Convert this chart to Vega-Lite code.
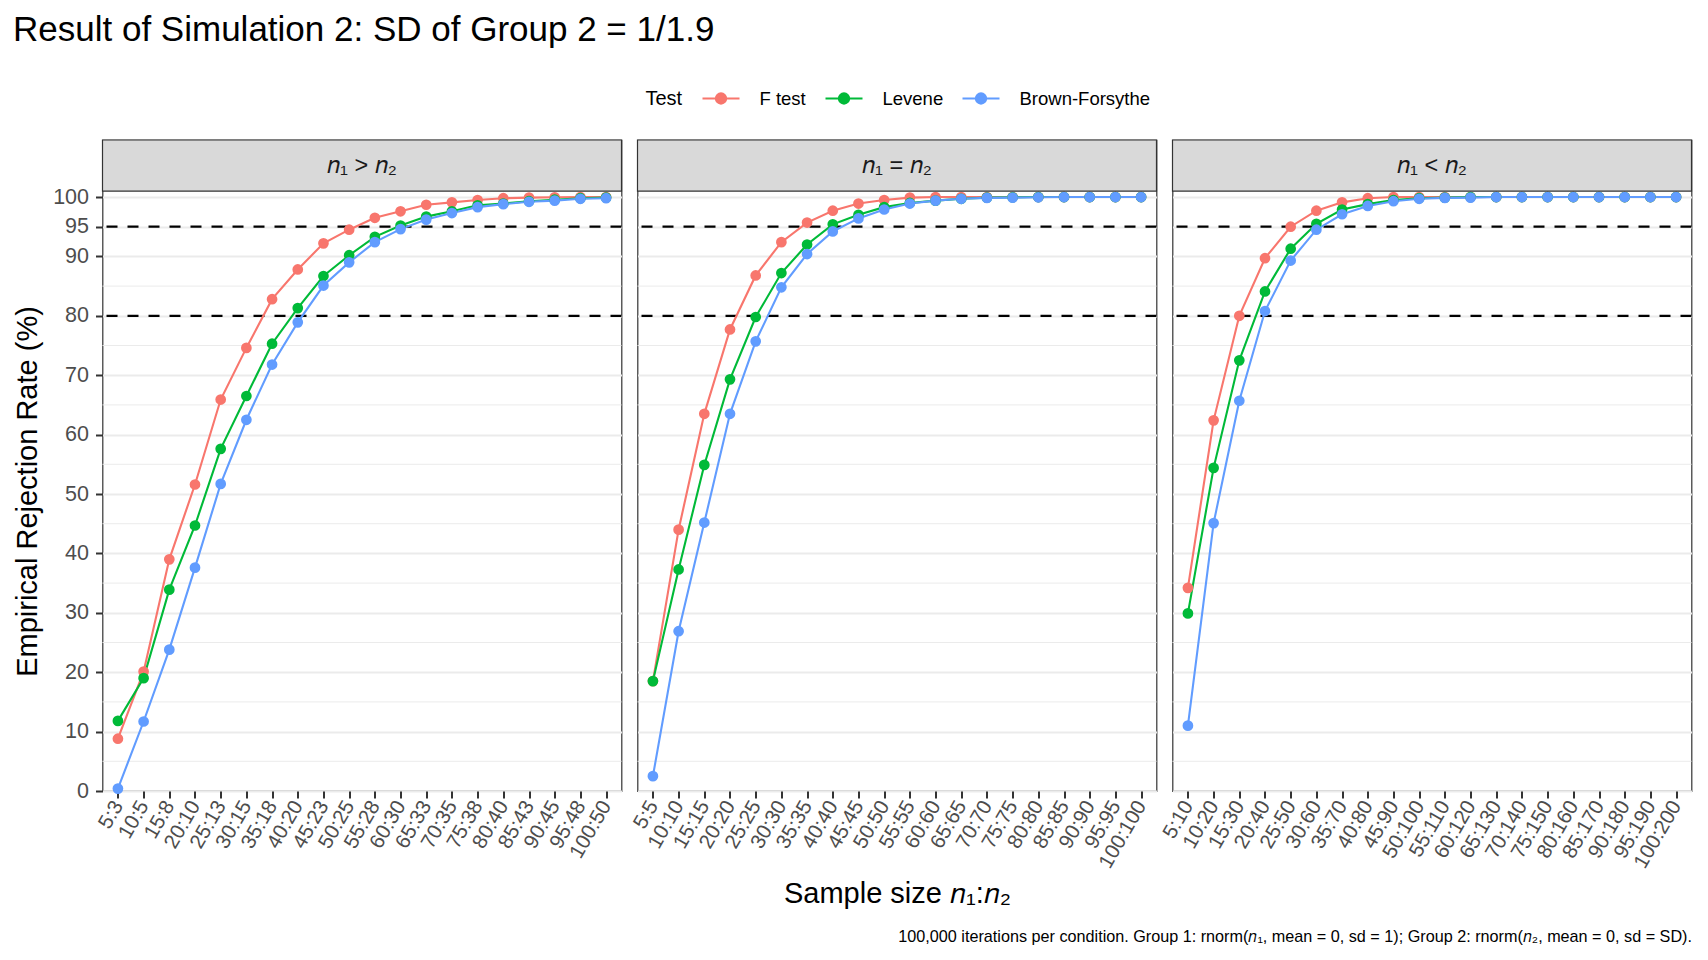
{
  "$schema": "https://vega.github.io/schema/vega-lite/v6.json",
  "background": "white",
  "padding": {"left": 12.5, "top": 13, "right": 14, "bottom": 10},
  "title": {
    "text": "Result of Simulation 2: SD of Group 2 = 1/1.9",
    "anchor": "start",
    "fontSize": 35,
    "fontWeight": "normal",
    "font": "Liberation Sans",
    "color": "black",
    "offset": 31
  },
  "datasets": {
    "rates": [
      {"panel": "gt", "size": "5:3", "test": "F test", "rate": 8.8},
      {"panel": "gt", "size": "10:5", "test": "F test", "rate": 20.1},
      {"panel": "gt", "size": "15:8", "test": "F test", "rate": 39.0},
      {"panel": "gt", "size": "20:10", "test": "F test", "rate": 51.6},
      {"panel": "gt", "size": "25:13", "test": "F test", "rate": 65.9},
      {"panel": "gt", "size": "30:15", "test": "F test", "rate": 74.6},
      {"panel": "gt", "size": "35:18", "test": "F test", "rate": 82.8},
      {"panel": "gt", "size": "40:20", "test": "F test", "rate": 87.8},
      {"panel": "gt", "size": "45:23", "test": "F test", "rate": 92.2},
      {"panel": "gt", "size": "50:25", "test": "F test", "rate": 94.5},
      {"panel": "gt", "size": "55:28", "test": "F test", "rate": 96.5},
      {"panel": "gt", "size": "60:30", "test": "F test", "rate": 97.6},
      {"panel": "gt", "size": "65:33", "test": "F test", "rate": 98.7},
      {"panel": "gt", "size": "70:35", "test": "F test", "rate": 99.1},
      {"panel": "gt", "size": "75:38", "test": "F test", "rate": 99.5},
      {"panel": "gt", "size": "80:40", "test": "F test", "rate": 99.8},
      {"panel": "gt", "size": "85:43", "test": "F test", "rate": 99.9},
      {"panel": "gt", "size": "90:45", "test": "F test", "rate": 99.95},
      {"panel": "gt", "size": "95:48", "test": "F test", "rate": 100},
      {"panel": "gt", "size": "100:50", "test": "F test", "rate": 100},
      {"panel": "gt", "size": "5:3", "test": "Levene", "rate": 11.8},
      {"panel": "gt", "size": "10:5", "test": "Levene", "rate": 19.0},
      {"panel": "gt", "size": "15:8", "test": "Levene", "rate": 33.9},
      {"panel": "gt", "size": "20:10", "test": "Levene", "rate": 44.7},
      {"panel": "gt", "size": "25:13", "test": "Levene", "rate": 57.6},
      {"panel": "gt", "size": "30:15", "test": "Levene", "rate": 66.5},
      {"panel": "gt", "size": "35:18", "test": "Levene", "rate": 75.3},
      {"panel": "gt", "size": "40:20", "test": "Levene", "rate": 81.3},
      {"panel": "gt", "size": "45:23", "test": "Levene", "rate": 86.7},
      {"panel": "gt", "size": "50:25", "test": "Levene", "rate": 90.2},
      {"panel": "gt", "size": "55:28", "test": "Levene", "rate": 93.3},
      {"panel": "gt", "size": "60:30", "test": "Levene", "rate": 95.2},
      {"panel": "gt", "size": "65:33", "test": "Levene", "rate": 96.7},
      {"panel": "gt", "size": "70:35", "test": "Levene", "rate": 97.6},
      {"panel": "gt", "size": "75:38", "test": "Levene", "rate": 98.6},
      {"panel": "gt", "size": "80:40", "test": "Levene", "rate": 98.9},
      {"panel": "gt", "size": "85:43", "test": "Levene", "rate": 99.3},
      {"panel": "gt", "size": "90:45", "test": "Levene", "rate": 99.55},
      {"panel": "gt", "size": "95:48", "test": "Levene", "rate": 99.8},
      {"panel": "gt", "size": "100:50", "test": "Levene", "rate": 99.9},
      {"panel": "gt", "size": "5:3", "test": "Brown-Forsythe", "rate": 0.4},
      {"panel": "gt", "size": "10:5", "test": "Brown-Forsythe", "rate": 11.7},
      {"panel": "gt", "size": "15:8", "test": "Brown-Forsythe", "rate": 23.8},
      {"panel": "gt", "size": "20:10", "test": "Brown-Forsythe", "rate": 37.6},
      {"panel": "gt", "size": "25:13", "test": "Brown-Forsythe", "rate": 51.7},
      {"panel": "gt", "size": "30:15", "test": "Brown-Forsythe", "rate": 62.5},
      {"panel": "gt", "size": "35:18", "test": "Brown-Forsythe", "rate": 71.8},
      {"panel": "gt", "size": "40:20", "test": "Brown-Forsythe", "rate": 78.9},
      {"panel": "gt", "size": "45:23", "test": "Brown-Forsythe", "rate": 85.1},
      {"panel": "gt", "size": "50:25", "test": "Brown-Forsythe", "rate": 89.0},
      {"panel": "gt", "size": "55:28", "test": "Brown-Forsythe", "rate": 92.4},
      {"panel": "gt", "size": "60:30", "test": "Brown-Forsythe", "rate": 94.6},
      {"panel": "gt", "size": "65:33", "test": "Brown-Forsythe", "rate": 96.2},
      {"panel": "gt", "size": "70:35", "test": "Brown-Forsythe", "rate": 97.3},
      {"panel": "gt", "size": "75:38", "test": "Brown-Forsythe", "rate": 98.3},
      {"panel": "gt", "size": "80:40", "test": "Brown-Forsythe", "rate": 98.8},
      {"panel": "gt", "size": "85:43", "test": "Brown-Forsythe", "rate": 99.2},
      {"panel": "gt", "size": "90:45", "test": "Brown-Forsythe", "rate": 99.4},
      {"panel": "gt", "size": "95:48", "test": "Brown-Forsythe", "rate": 99.7},
      {"panel": "gt", "size": "100:50", "test": "Brown-Forsythe", "rate": 99.8},

      {"panel": "eq", "size": "5:5", "test": "F test", "rate": 18.5},
      {"panel": "eq", "size": "10:10", "test": "F test", "rate": 44.0},
      {"panel": "eq", "size": "15:15", "test": "F test", "rate": 63.5},
      {"panel": "eq", "size": "20:20", "test": "F test", "rate": 77.7},
      {"panel": "eq", "size": "25:25", "test": "F test", "rate": 86.8},
      {"panel": "eq", "size": "30:30", "test": "F test", "rate": 92.4},
      {"panel": "eq", "size": "35:35", "test": "F test", "rate": 95.7},
      {"panel": "eq", "size": "40:40", "test": "F test", "rate": 97.7},
      {"panel": "eq", "size": "45:45", "test": "F test", "rate": 98.9},
      {"panel": "eq", "size": "50:50", "test": "F test", "rate": 99.5},
      {"panel": "eq", "size": "55:55", "test": "F test", "rate": 99.9},
      {"panel": "eq", "size": "60:60", "test": "F test", "rate": 100},
      {"panel": "eq", "size": "65:65", "test": "F test", "rate": 100},
      {"panel": "eq", "size": "70:70", "test": "F test", "rate": 100},
      {"panel": "eq", "size": "75:75", "test": "F test", "rate": 100},
      {"panel": "eq", "size": "80:80", "test": "F test", "rate": 100},
      {"panel": "eq", "size": "85:85", "test": "F test", "rate": 100},
      {"panel": "eq", "size": "90:90", "test": "F test", "rate": 100},
      {"panel": "eq", "size": "95:95", "test": "F test", "rate": 100},
      {"panel": "eq", "size": "100:100", "test": "F test", "rate": 100},
      {"panel": "eq", "size": "5:5", "test": "Levene", "rate": 18.5},
      {"panel": "eq", "size": "10:10", "test": "Levene", "rate": 37.3},
      {"panel": "eq", "size": "15:15", "test": "Levene", "rate": 54.9},
      {"panel": "eq", "size": "20:20", "test": "Levene", "rate": 69.3},
      {"panel": "eq", "size": "25:25", "test": "Levene", "rate": 79.8},
      {"panel": "eq", "size": "30:30", "test": "Levene", "rate": 87.2},
      {"panel": "eq", "size": "35:35", "test": "Levene", "rate": 92.0},
      {"panel": "eq", "size": "40:40", "test": "Levene", "rate": 95.4},
      {"panel": "eq", "size": "45:45", "test": "Levene", "rate": 97.0},
      {"panel": "eq", "size": "50:50", "test": "Levene", "rate": 98.3},
      {"panel": "eq", "size": "55:55", "test": "Levene", "rate": 99.0},
      {"panel": "eq", "size": "60:60", "test": "Levene", "rate": 99.4},
      {"panel": "eq", "size": "65:65", "test": "Levene", "rate": 99.7},
      {"panel": "eq", "size": "70:70", "test": "Levene", "rate": 99.9},
      {"panel": "eq", "size": "75:75", "test": "Levene", "rate": 99.95},
      {"panel": "eq", "size": "80:80", "test": "Levene", "rate": 100},
      {"panel": "eq", "size": "85:85", "test": "Levene", "rate": 100},
      {"panel": "eq", "size": "90:90", "test": "Levene", "rate": 100},
      {"panel": "eq", "size": "95:95", "test": "Levene", "rate": 100},
      {"panel": "eq", "size": "100:100", "test": "Levene", "rate": 100},
      {"panel": "eq", "size": "5:5", "test": "Brown-Forsythe", "rate": 2.5},
      {"panel": "eq", "size": "10:10", "test": "Brown-Forsythe", "rate": 26.9},
      {"panel": "eq", "size": "15:15", "test": "Brown-Forsythe", "rate": 45.2},
      {"panel": "eq", "size": "20:20", "test": "Brown-Forsythe", "rate": 63.5},
      {"panel": "eq", "size": "25:25", "test": "Brown-Forsythe", "rate": 75.7},
      {"panel": "eq", "size": "30:30", "test": "Brown-Forsythe", "rate": 84.8},
      {"panel": "eq", "size": "35:35", "test": "Brown-Forsythe", "rate": 90.4},
      {"panel": "eq", "size": "40:40", "test": "Brown-Forsythe", "rate": 94.2},
      {"panel": "eq", "size": "45:45", "test": "Brown-Forsythe", "rate": 96.4},
      {"panel": "eq", "size": "50:50", "test": "Brown-Forsythe", "rate": 97.9},
      {"panel": "eq", "size": "55:55", "test": "Brown-Forsythe", "rate": 98.9},
      {"panel": "eq", "size": "60:60", "test": "Brown-Forsythe", "rate": 99.4},
      {"panel": "eq", "size": "65:65", "test": "Brown-Forsythe", "rate": 99.7},
      {"panel": "eq", "size": "70:70", "test": "Brown-Forsythe", "rate": 99.85},
      {"panel": "eq", "size": "75:75", "test": "Brown-Forsythe", "rate": 99.9},
      {"panel": "eq", "size": "80:80", "test": "Brown-Forsythe", "rate": 99.95},
      {"panel": "eq", "size": "85:85", "test": "Brown-Forsythe", "rate": 100},
      {"panel": "eq", "size": "90:90", "test": "Brown-Forsythe", "rate": 100},
      {"panel": "eq", "size": "95:95", "test": "Brown-Forsythe", "rate": 100},
      {"panel": "eq", "size": "100:100", "test": "Brown-Forsythe", "rate": 100},

      {"panel": "lt", "size": "5:10", "test": "F test", "rate": 34.2},
      {"panel": "lt", "size": "10:20", "test": "F test", "rate": 62.4},
      {"panel": "lt", "size": "15:30", "test": "F test", "rate": 80.0},
      {"panel": "lt", "size": "20:40", "test": "F test", "rate": 89.7},
      {"panel": "lt", "size": "25:50", "test": "F test", "rate": 95.0},
      {"panel": "lt", "size": "30:60", "test": "F test", "rate": 97.7},
      {"panel": "lt", "size": "35:70", "test": "F test", "rate": 99.1},
      {"panel": "lt", "size": "40:80", "test": "F test", "rate": 99.8},
      {"panel": "lt", "size": "45:90", "test": "F test", "rate": 100},
      {"panel": "lt", "size": "50:100", "test": "F test", "rate": 100},
      {"panel": "lt", "size": "55:110", "test": "F test", "rate": 100},
      {"panel": "lt", "size": "60:120", "test": "F test", "rate": 100},
      {"panel": "lt", "size": "65:130", "test": "F test", "rate": 100},
      {"panel": "lt", "size": "70:140", "test": "F test", "rate": 100},
      {"panel": "lt", "size": "75:150", "test": "F test", "rate": 100},
      {"panel": "lt", "size": "80:160", "test": "F test", "rate": 100},
      {"panel": "lt", "size": "85:170", "test": "F test", "rate": 100},
      {"panel": "lt", "size": "90:180", "test": "F test", "rate": 100},
      {"panel": "lt", "size": "95:190", "test": "F test", "rate": 100},
      {"panel": "lt", "size": "100:200", "test": "F test", "rate": 100},
      {"panel": "lt", "size": "5:10", "test": "Levene", "rate": 29.9},
      {"panel": "lt", "size": "10:20", "test": "Levene", "rate": 54.4},
      {"panel": "lt", "size": "15:30", "test": "Levene", "rate": 72.5},
      {"panel": "lt", "size": "20:40", "test": "Levene", "rate": 84.1},
      {"panel": "lt", "size": "25:50", "test": "Levene", "rate": 91.3},
      {"panel": "lt", "size": "30:60", "test": "Levene", "rate": 95.5},
      {"panel": "lt", "size": "35:70", "test": "Levene", "rate": 97.9},
      {"panel": "lt", "size": "40:80", "test": "Levene", "rate": 98.8},
      {"panel": "lt", "size": "45:90", "test": "Levene", "rate": 99.5},
      {"panel": "lt", "size": "50:100", "test": "Levene", "rate": 99.8},
      {"panel": "lt", "size": "55:110", "test": "Levene", "rate": 99.9},
      {"panel": "lt", "size": "60:120", "test": "Levene", "rate": 100},
      {"panel": "lt", "size": "65:130", "test": "Levene", "rate": 100},
      {"panel": "lt", "size": "70:140", "test": "Levene", "rate": 100},
      {"panel": "lt", "size": "75:150", "test": "Levene", "rate": 100},
      {"panel": "lt", "size": "80:160", "test": "Levene", "rate": 100},
      {"panel": "lt", "size": "85:170", "test": "Levene", "rate": 100},
      {"panel": "lt", "size": "90:180", "test": "Levene", "rate": 100},
      {"panel": "lt", "size": "95:190", "test": "Levene", "rate": 100},
      {"panel": "lt", "size": "100:200", "test": "Levene", "rate": 100},
      {"panel": "lt", "size": "5:10", "test": "Brown-Forsythe", "rate": 11.0},
      {"panel": "lt", "size": "10:20", "test": "Brown-Forsythe", "rate": 45.1},
      {"panel": "lt", "size": "15:30", "test": "Brown-Forsythe", "rate": 65.7},
      {"panel": "lt", "size": "20:40", "test": "Brown-Forsythe", "rate": 80.8},
      {"panel": "lt", "size": "25:50", "test": "Brown-Forsythe", "rate": 89.3},
      {"panel": "lt", "size": "30:60", "test": "Brown-Forsythe", "rate": 94.5},
      {"panel": "lt", "size": "35:70", "test": "Brown-Forsythe", "rate": 97.1},
      {"panel": "lt", "size": "40:80", "test": "Brown-Forsythe", "rate": 98.5},
      {"panel": "lt", "size": "45:90", "test": "Brown-Forsythe", "rate": 99.3},
      {"panel": "lt", "size": "50:100", "test": "Brown-Forsythe", "rate": 99.7},
      {"panel": "lt", "size": "55:110", "test": "Brown-Forsythe", "rate": 99.85},
      {"panel": "lt", "size": "60:120", "test": "Brown-Forsythe", "rate": 99.9},
      {"panel": "lt", "size": "65:130", "test": "Brown-Forsythe", "rate": 100},
      {"panel": "lt", "size": "70:140", "test": "Brown-Forsythe", "rate": 100},
      {"panel": "lt", "size": "75:150", "test": "Brown-Forsythe", "rate": 100},
      {"panel": "lt", "size": "80:160", "test": "Brown-Forsythe", "rate": 100},
      {"panel": "lt", "size": "85:170", "test": "Brown-Forsythe", "rate": 100},
      {"panel": "lt", "size": "90:180", "test": "Brown-Forsythe", "rate": 100},
      {"panel": "lt", "size": "95:190", "test": "Brown-Forsythe", "rate": 100},
      {"panel": "lt", "size": "100:200", "test": "Brown-Forsythe", "rate": 100}
    ],
    "minor": [
      {"level": 5}, {"level": 15}, {"level": 25}, {"level": 35}, {"level": 45},
      {"level": 55}, {"level": 65}, {"level": 75}, {"level": 85}
    ],
    "refs": [{"level": 80}, {"level": 95}],
    "strips": [
      {"panel": "gt", "label": "𝑛₁ > 𝑛₂"},
      {"panel": "eq", "label": "𝑛₁ = 𝑛₂"},
      {"panel": "lt", "label": "𝑛₁ < 𝑛₂"}
    ]
  },
  "spacing": 16,
  "bounds": "flush",
  "hconcat": [
    {
      "width": 519,
      "height": 651,
      "layer": [
        {
          "data": {"name": "minor"},
          "mark": {"type": "rule", "color": "#EBEBEB", "strokeWidth": 1},
          "encoding": {
            "y": {"field": "level", "type": "quantitative", "title": "Empirical Rejection Rate (%)",
                  "scale": {"domain": [0, 109.6], "nice": false, "zero": false},
                  "axis": {"values": [0, 10, 20, 30, 40, 50, 60, 70, 80, 90, 95, 100], "titleY": 351}}
          }
        },
        {
          "data": {"name": "refs"},
          "mark": {"type": "rule", "color": "black", "strokeWidth": 2.2, "strokeDash": [11, 10]},
          "encoding": {
            "y": {"field": "level", "type": "quantitative", "title": "Empirical Rejection Rate (%)",
                  "scale": {"domain": [0, 109.6], "nice": false, "zero": false}}
          }
        },
        {
          "data": {"name": "rates"},
          "transform": [{"filter": "datum.panel == 'gt'"}],
          "mark": {"type": "line", "strokeWidth": 2.1},
          "encoding": {
            "x": {"field": "size", "type": "ordinal", "title": null,
                  "sort": ["5:3","10:5","15:8","20:10","25:13","30:15","35:18","40:20","45:23","50:25","55:28","60:30","65:33","70:35","75:38","80:40","85:43","90:45","95:48","100:50"],
                  "scale": {"type": "point", "padding": 0.6}},
            "y": {"field": "rate", "type": "quantitative", "title": "Empirical Rejection Rate (%)",
                  "scale": {"domain": [0, 109.6], "nice": false, "zero": false}},
            "color": {"field": "test", "type": "nominal", "title": "Test",
                      "scale": {"domain": ["F test", "Levene", "Brown-Forsythe"], "range": ["#F8766D", "#00BA38", "#619CFF"]}}
          }
        },
        {
          "data": {"name": "rates"},
          "transform": [{"filter": "datum.panel == 'gt'"}],
          "mark": {"type": "point", "filled": true, "size": 115, "opacity": 1},
          "encoding": {
            "x": {"field": "size", "type": "ordinal", "title": null,
                  "sort": ["5:3","10:5","15:8","20:10","25:13","30:15","35:18","40:20","45:23","50:25","55:28","60:30","65:33","70:35","75:38","80:40","85:43","90:45","95:48","100:50"],
                  "scale": {"type": "point", "padding": 0.6}},
            "y": {"field": "rate", "type": "quantitative", "title": "Empirical Rejection Rate (%)",
                  "scale": {"domain": [0, 109.6], "nice": false, "zero": false}},
            "color": {"field": "test", "type": "nominal", "title": "Test",
                      "scale": {"domain": ["F test", "Levene", "Brown-Forsythe"], "range": ["#F8766D", "#00BA38", "#619CFF"]}}
          }
        },
        {
          "data": {"name": "strips"},
          "transform": [{"filter": "datum.panel == 'gt'"}],
          "mark": {"type": "rect", "fill": "#D9D9D9", "stroke": "#333333", "strokeWidth": 1.2},
          "encoding": {
            "y": {"datum": 101, "type": "quantitative", "title": "Empirical Rejection Rate (%)",
                  "scale": {"domain": [0, 109.6], "nice": false, "zero": false}},
            "y2": {"datum": 109.6}
          }
        },
        {
          "data": {"name": "strips"},
          "transform": [{"filter": "datum.panel == 'gt'"}],
          "mark": {"type": "text", "fontSize": 23.5, "font": "Liberation Sans", "color": "#1A1A1A", "baseline": "middle"},
          "encoding": {
            "y": {"datum": 105.3, "type": "quantitative", "title": "Empirical Rejection Rate (%)",
                  "scale": {"domain": [0, 109.6], "nice": false, "zero": false}},
            "text": {"field": "label"}
          }
        }
      ]
    },
    {
      "width": 519,
      "height": 651,
      "layer": [
        {
          "data": {"name": "minor"},
          "mark": {"type": "rule", "color": "#EBEBEB", "strokeWidth": 1},
          "encoding": {
            "y": {"field": "level", "type": "quantitative", "title": null,
                  "scale": {"domain": [0, 109.6], "nice": false, "zero": false},
                  "axis": {"values": [0, 10, 20, 30, 40, 50, 60, 70, 80, 90, 95, 100], "labels": false, "ticks": false}}
          }
        },
        {
          "data": {"name": "refs"},
          "mark": {"type": "rule", "color": "black", "strokeWidth": 2.2, "strokeDash": [11, 10]},
          "encoding": {
            "y": {"field": "level", "type": "quantitative", "title": null,
                  "scale": {"domain": [0, 109.6], "nice": false, "zero": false}}
          }
        },
        {
          "data": {"name": "rates"},
          "transform": [{"filter": "datum.panel == 'eq'"}],
          "mark": {"type": "line", "strokeWidth": 2.1},
          "encoding": {
            "x": {"field": "size", "type": "ordinal", "title": "Sample size 𝑛₁:𝑛₂",
                  "sort": ["5:5","10:10","15:15","20:20","25:25","30:30","35:35","40:40","45:45","50:50","55:55","60:60","65:65","70:70","75:75","80:80","85:85","90:90","95:95","100:100"],
                  "scale": {"type": "point", "padding": 0.6},
                  "axis": {"titlePadding": 8}},
            "y": {"field": "rate", "type": "quantitative", "title": null,
                  "scale": {"domain": [0, 109.6], "nice": false, "zero": false}},
            "color": {"field": "test", "type": "nominal", "title": "Test",
                      "scale": {"domain": ["F test", "Levene", "Brown-Forsythe"], "range": ["#F8766D", "#00BA38", "#619CFF"]}}
          }
        },
        {
          "data": {"name": "rates"},
          "transform": [{"filter": "datum.panel == 'eq'"}],
          "mark": {"type": "point", "filled": true, "size": 115, "opacity": 1},
          "encoding": {
            "x": {"field": "size", "type": "ordinal", "title": "Sample size 𝑛₁:𝑛₂",
                  "sort": ["5:5","10:10","15:15","20:20","25:25","30:30","35:35","40:40","45:45","50:50","55:55","60:60","65:65","70:70","75:75","80:80","85:85","90:90","95:95","100:100"],
                  "scale": {"type": "point", "padding": 0.6}},
            "y": {"field": "rate", "type": "quantitative", "title": null,
                  "scale": {"domain": [0, 109.6], "nice": false, "zero": false}},
            "color": {"field": "test", "type": "nominal", "title": "Test",
                      "scale": {"domain": ["F test", "Levene", "Brown-Forsythe"], "range": ["#F8766D", "#00BA38", "#619CFF"]}}
          }
        },
        {
          "data": {"name": "strips"},
          "transform": [{"filter": "datum.panel == 'eq'"}],
          "mark": {"type": "rect", "fill": "#D9D9D9", "stroke": "#333333", "strokeWidth": 1.2},
          "encoding": {
            "y": {"datum": 101, "type": "quantitative", "title": null,
                  "scale": {"domain": [0, 109.6], "nice": false, "zero": false}},
            "y2": {"datum": 109.6}
          }
        },
        {
          "data": {"name": "strips"},
          "transform": [{"filter": "datum.panel == 'eq'"}],
          "mark": {"type": "text", "fontSize": 23.5, "font": "Liberation Sans", "color": "#1A1A1A", "baseline": "middle"},
          "encoding": {
            "y": {"datum": 105.3, "type": "quantitative", "title": null,
                  "scale": {"domain": [0, 109.6], "nice": false, "zero": false}},
            "text": {"field": "label"}
          }
        }
      ]
    },
    {
      "width": 519,
      "height": 651,
      "layer": [
        {
          "data": {"name": "minor"},
          "mark": {"type": "rule", "color": "#EBEBEB", "strokeWidth": 1},
          "encoding": {
            "y": {"field": "level", "type": "quantitative", "title": null,
                  "scale": {"domain": [0, 109.6], "nice": false, "zero": false},
                  "axis": {"values": [0, 10, 20, 30, 40, 50, 60, 70, 80, 90, 95, 100], "labels": false, "ticks": false}}
          }
        },
        {
          "data": {"name": "refs"},
          "mark": {"type": "rule", "color": "black", "strokeWidth": 2.2, "strokeDash": [11, 10]},
          "encoding": {
            "y": {"field": "level", "type": "quantitative", "title": null,
                  "scale": {"domain": [0, 109.6], "nice": false, "zero": false}}
          }
        },
        {
          "data": {"name": "rates"},
          "transform": [{"filter": "datum.panel == 'lt'"}],
          "mark": {"type": "line", "strokeWidth": 2.1},
          "encoding": {
            "x": {"field": "size", "type": "ordinal",
                  "title": "100,000 iterations per condition. Group 1: rnorm(𝑛₁, mean = 0, sd = 1); Group 2: rnorm(𝑛₂, mean = 0, sd = SD).",
                  "sort": ["5:10","10:20","15:30","20:40","25:50","30:60","35:70","40:80","45:90","50:100","55:110","60:120","65:130","70:140","75:150","80:160","85:170","90:180","95:190","100:200"],
                  "scale": {"type": "point", "padding": 0.6},
                  "axis": {"titleFontSize": 16.2, "titleAnchor": "end", "titlePadding": 57}},
            "y": {"field": "rate", "type": "quantitative", "title": null,
                  "scale": {"domain": [0, 109.6], "nice": false, "zero": false}},
            "color": {"field": "test", "type": "nominal", "title": "Test",
                      "scale": {"domain": ["F test", "Levene", "Brown-Forsythe"], "range": ["#F8766D", "#00BA38", "#619CFF"]}}
          }
        },
        {
          "data": {"name": "rates"},
          "transform": [{"filter": "datum.panel == 'lt'"}],
          "mark": {"type": "point", "filled": true, "size": 115, "opacity": 1},
          "encoding": {
            "x": {"field": "size", "type": "ordinal",
                  "title": "100,000 iterations per condition. Group 1: rnorm(𝑛₁, mean = 0, sd = 1); Group 2: rnorm(𝑛₂, mean = 0, sd = SD).",
                  "sort": ["5:10","10:20","15:30","20:40","25:50","30:60","35:70","40:80","45:90","50:100","55:110","60:120","65:130","70:140","75:150","80:160","85:170","90:180","95:190","100:200"],
                  "scale": {"type": "point", "padding": 0.6}},
            "y": {"field": "rate", "type": "quantitative", "title": null,
                  "scale": {"domain": [0, 109.6], "nice": false, "zero": false}},
            "color": {"field": "test", "type": "nominal", "title": "Test",
                      "scale": {"domain": ["F test", "Levene", "Brown-Forsythe"], "range": ["#F8766D", "#00BA38", "#619CFF"]}}
          }
        },
        {
          "data": {"name": "strips"},
          "transform": [{"filter": "datum.panel == 'lt'"}],
          "mark": {"type": "rect", "fill": "#D9D9D9", "stroke": "#333333", "strokeWidth": 1.2},
          "encoding": {
            "y": {"datum": 101, "type": "quantitative", "title": null,
                  "scale": {"domain": [0, 109.6], "nice": false, "zero": false}},
            "y2": {"datum": 109.6}
          }
        },
        {
          "data": {"name": "strips"},
          "transform": [{"filter": "datum.panel == 'lt'"}],
          "mark": {"type": "text", "fontSize": 23.5, "font": "Liberation Sans", "color": "#1A1A1A", "baseline": "middle"},
          "encoding": {
            "y": {"datum": 105.3, "type": "quantitative", "title": null,
                  "scale": {"domain": [0, 109.6], "nice": false, "zero": false}},
            "text": {"field": "label"}
          }
        }
      ]
    }
  ],
  "config": {
    "font": "Liberation Sans",
    "view": {"stroke": "#333333", "strokeWidth": 1.2},
    "axis": {
      "domain": false,
      "gridColor": "#EBEBEB",
      "gridWidth": 2,
      "tickColor": "#333333",
      "tickWidth": 2,
      "tickSize": 7,
      "labelColor": "#4D4D4D",
      "labelFont": "Liberation Sans",
      "labelFontSize": 21.5,
      "titleFont": "Liberation Sans",
      "titleFontSize": 29,
      "titleFontWeight": "normal",
      "titleColor": "black"
    },
    "axisY": {"labelPadding": 7, "titlePadding": 10},
    "axisX": {"labelAngle": -60, "labelAlign": "right", "labelBaseline": "middle", "labelPadding": 4, "labelFontSize": 20.5, "labelOverlap": false, "labelFlush": false},
    "legend": {
      "orient": "none",
      "direction": "horizontal",
      "legendX": 543,
      "legendY": -61,
      "titleOrient": "left",
      "titleAnchor": "middle",
      "titleBaseline": "line-top",
      "titleLineHeight": 11,
      "titleFontSize": 20,
      "titleFontWeight": "normal",
      "titleColor": "black",
      "titlePadding": 19,
      "labelFontSize": 18.5,
      "labelColor": "black",
      "labelOffset": 19,
      "columnPadding": 15,
      "symbolType": "M-1,0L1,0M0.28,0A0.28,0.28,0,1,1,-0.28,0A0.28,0.28,0,1,1,0.28,0",
      "symbolSize": 1369,
      "symbolStrokeWidth": 2,
      "symbolOpacity": 1,
      "encode": {
        "symbols": {
          "update": {
            "stroke": {"scale": "color", "field": "value"},
            "fill": {"scale": "color", "field": "value"}
          }
        }
      }
    }
  }
}
